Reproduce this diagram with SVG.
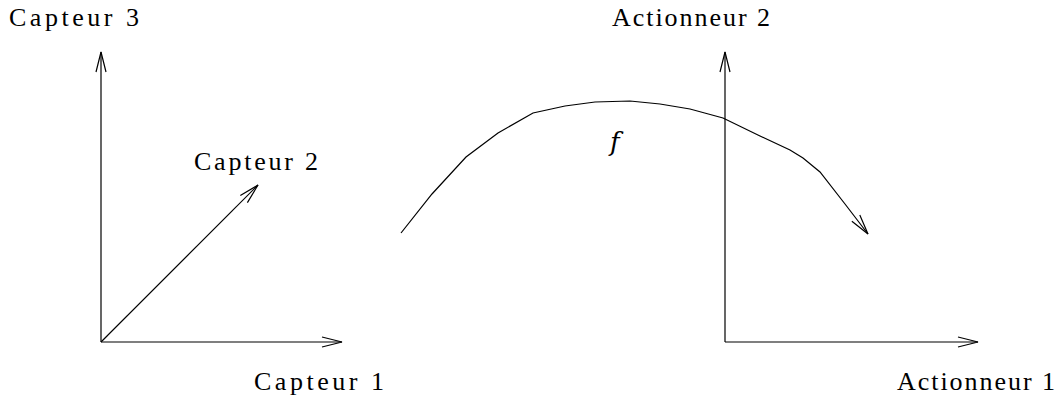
<svg xmlns="http://www.w3.org/2000/svg" width="1063" height="398" viewBox="0 0 1063 398">
<style>
.ax{fill:none;stroke:#000;stroke-width:1.2}
.lbl{font-family:"Liberation Serif",serif;font-size:26px;fill:#000}
.it{font-family:"DejaVu Serif","Liberation Serif",serif;font-size:26px;font-style:italic;fill:#000}
</style>
<defs>
<marker id="ah" markerUnits="userSpaceOnUse" markerWidth="30" markerHeight="30" refX="0" refY="0" viewBox="-25 -10 30 20" orient="auto">
<path d="M-20,-5 L0,0 L-20,5" fill="none" stroke="#000" stroke-width="1.2"/>
</marker>
</defs>
<rect width="1063" height="398" fill="#fff"/>
<g id="connectors">
<line class="ax" x1="101" y1="342" x2="101" y2="52" marker-end="url(#ah)"/>
<line class="ax" x1="101" y1="342" x2="342" y2="342" marker-end="url(#ah)"/>
<line class="ax" x1="101" y1="342" x2="258" y2="185" marker-end="url(#ah)"/>
<line class="ax" x1="725" y1="342" x2="725" y2="52" marker-end="url(#ah)"/>
<line class="ax" x1="725" y1="342" x2="978" y2="342" marker-end="url(#ah)"/>
<polyline class="ax" points="401,233 432,194 466,157 498,133 533,113 565,106 595,102 630,101 660,104 690,109 723,118 760,136 790,150 803,158 820,172 845,204 868,234" marker-end="url(#ah)"/>
</g>
<g id="capteur3"><text class="lbl" x="9" y="26" textLength="130" lengthAdjust="spacing">Capteur 3</text></g>
<g id="capteur2"><text class="lbl" x="194" y="170" textLength="124" lengthAdjust="spacing">Capteur 2</text></g>
<g id="capteur1"><text class="lbl" x="254" y="390" textLength="130" lengthAdjust="spacing">Capteur 1</text></g>
<g id="actionneur2"><text class="lbl" x="612" y="26" textLength="158" lengthAdjust="spacing">Actionneur 2</text></g>
<g id="actionneur1"><text class="lbl" x="897" y="390" textLength="158" lengthAdjust="spacing">Actionneur 1</text></g>
<g id="f"><text class="it" x="610" y="151">f</text></g>
</svg>
